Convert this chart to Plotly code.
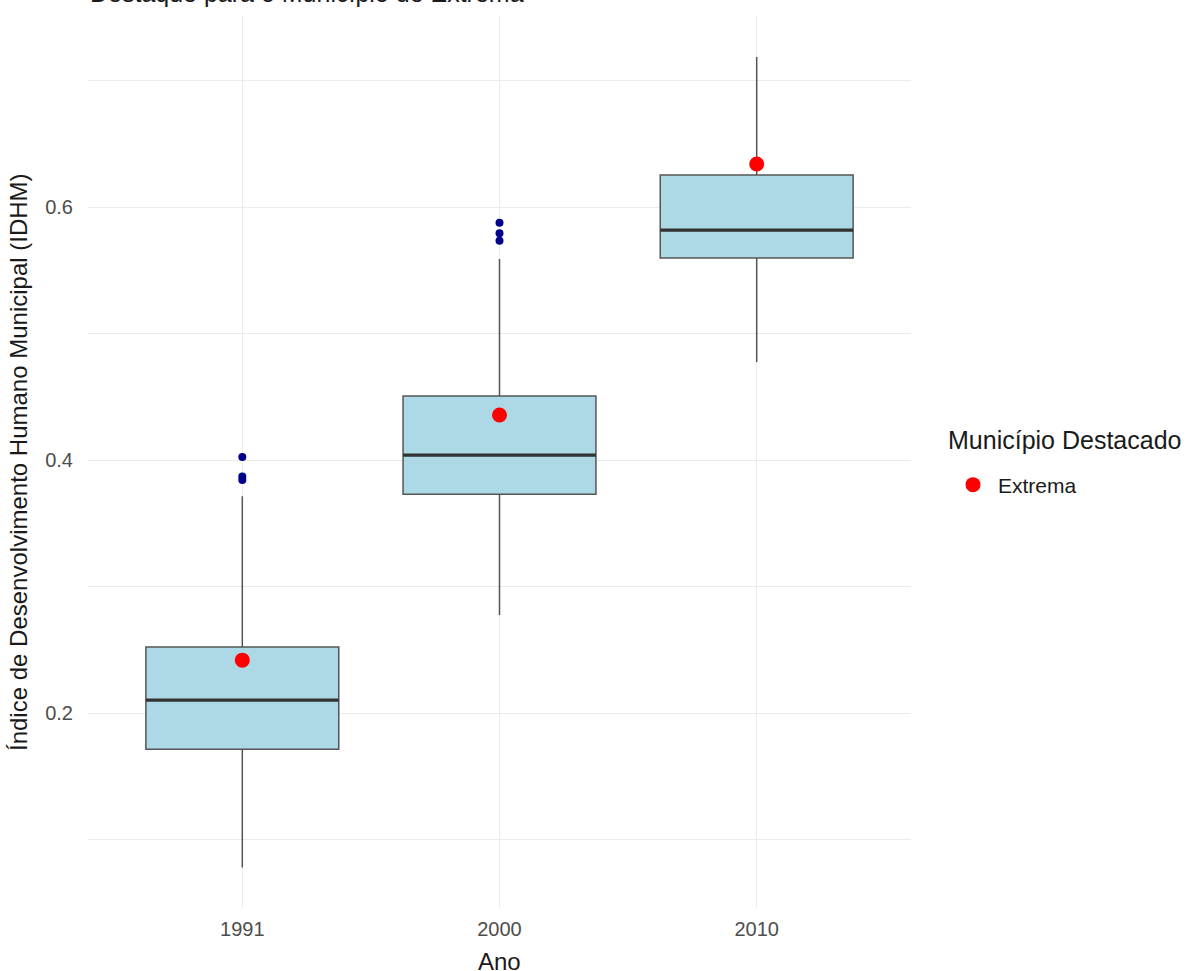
import plotly.graph_objects as go

# IDHM distribution per census year
anos = ["1991", "2000", "2010"]
q1 = [0.1715, 0.3731, 0.5597]
mediana = [0.2103, 0.4040, 0.5818]
q3 = [0.2522, 0.4506, 0.6253]
limite_inf = [0.078, 0.2775, 0.4775]
limite_sup = [0.3715, 0.5589, 0.7186]

# outliers per year
outliers = {
    "1991": [0.4024, 0.3870, 0.3843],
    "2000": [0.5876, 0.5792, 0.5734],
    "2010": [],
}

# highlighted municipality
municipio = "Extrema"
idhm_municipio = [0.2419, 0.4356, 0.6340]

pos = list(range(len(anos)))
largura = 0.75

FONT = "Liberation Sans, Arial, sans-serif"

# panel geometry in pixels (used for the annotation placement)
P_TOP, P_BOT, P_LEFT, P_RIGHT = 16, 908, 88, 911
P_H = P_BOT - P_TOP
P_W = P_RIGHT - P_LEFT


def py(pix):
    return (P_BOT - pix) / P_H


def px(pix):
    return (pix - P_LEFT) / P_W


fig = go.Figure()

fig.add_trace(go.Box(
    x=pos, q1=q1, median=mediana, q3=q3,
    lowerfence=limite_inf, upperfence=limite_sup,
    width=largura, whiskerwidth=0, boxpoints=False,
    fillcolor="#ADD8E6", line=dict(color="#555555", width=1.5),
    showlegend=False, hoverinfo="skip",
))

# thicker median bars
mx, my = [], []
for p, m in zip(pos, mediana):
    mx += [p - largura / 2, p + largura / 2, None]
    my += [m, m, None]
fig.add_trace(go.Scatter(
    x=mx, y=my, mode="lines", line=dict(color="#333333", width=3.2),
    showlegend=False, hoverinfo="skip",
))

ox, oy = [], []
for p, a in zip(pos, anos):
    for v in outliers[a]:
        ox.append(p)
        oy.append(v)
fig.add_trace(go.Scatter(
    x=ox, y=oy, mode="markers",
    marker=dict(color="#00008B", size=8),
    showlegend=False, hoverinfo="skip",
))

fig.add_trace(go.Scatter(
    x=pos, y=idhm_municipio, mode="markers", name=municipio,
    marker=dict(color="#FF0000", size=15),
))

fig.update_layout(
    width=1188, height=971,
    margin=dict(l=P_LEFT, r=1188 - P_RIGHT, t=P_TOP, b=971 - P_BOT),
    paper_bgcolor="white", plot_bgcolor="white",
    font=dict(family=FONT, color="#1A1A1A"),
    xaxis=dict(
        range=[-0.6, 2.6], tickvals=pos, ticktext=anos,
        showgrid=True, gridcolor="#EBEBEB", gridwidth=1,
        zeroline=False, showline=False,
        tickfont=dict(size=20, color="#4D4D4D"),
        ticks="outside", ticklen=3, tickcolor="rgba(0,0,0,0)",
    ),
    yaxis=dict(
        range=[0.046, 0.751], tickvals=[0.2, 0.4, 0.6], ticktext=["0.2", "0.4", "0.6"],
        showgrid=True, gridcolor="#EBEBEB", gridwidth=1,
        minor=dict(tickvals=[0.1, 0.3, 0.5, 0.7], showgrid=True, gridcolor="#EBEBEB", gridwidth=1),
        zeroline=False, showline=False,
        tickfont=dict(size=20, color="#4D4D4D"),
        ticks="outside", ticklen=10, tickcolor="rgba(0,0,0,0)",
    ),
    legend=dict(
        font=dict(size=21, color="#1A1A1A"),
        x=px(948), xanchor="left", y=py(485), yanchor="middle",
        itemwidth=40,
        bgcolor="rgba(0,0,0,0)",
    ),
    annotations=[
        dict(text="Destaque para o Município de Extrema", xref="paper", yref="paper",
             x=0, y=py(9), xanchor="left", yanchor="bottom", showarrow=False,
             font=dict(size=25, color="#1A1A1A")),
        dict(text="Município Destacado", xref="paper", yref="paper",
             x=px(946), y=py(440), xanchor="left", yanchor="middle", showarrow=False,
             font=dict(size=25, color="#1A1A1A")),
        dict(text="Ano", xref="paper", yref="paper", x=0.5, y=py(961),
             xanchor="center", yanchor="middle", showarrow=False,
             font=dict(size=24, color="#1A1A1A")),
        dict(text="Índice de Desenvolvimento Humano Municipal (IDHM)", xref="paper", yref="paper",
             x=px(18), y=0.5, xanchor="center", yanchor="middle", textangle=-90,
             showarrow=False, font=dict(size=24, color="#1A1A1A")),
    ],
)

fig.write_html("out.html")
